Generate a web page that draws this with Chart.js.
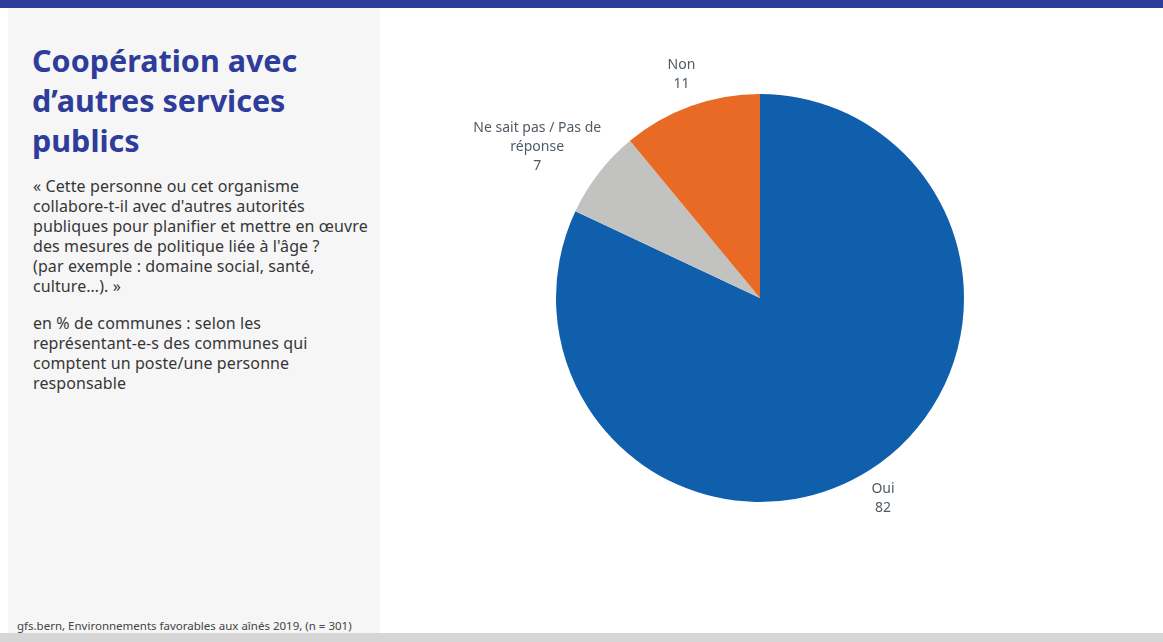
<!DOCTYPE html>
<html>
<head>
<meta charset="utf-8">
<script src="https://cdn.jsdelivr.net/npm/chart.js@4/dist/chart.umd.min.js"></script>
<style>
  body { margin: 0; width: 1163px; height: 642px; position: relative; overflow: hidden; background: #fff; font-family: "Noto Sans", sans-serif; }
  #topbar { position: absolute; left: 0; top: 0; width: 1163px; height: 8px; background: #2e3d9b; }
  #panel { position: absolute; left: 8px; top: 8px; width: 372px; height: 625px; background: #f6f6f6; }
  #bottombar { position: absolute; left: 0; top: 633px; width: 1163px; height: 9px; background: #d6d6d6; }
  h1 { position: absolute; left: 32px; top: 40px; margin: 0; width: 345px; font-size: 30.5px; line-height: 40px; font-weight: 700; color: #2e3d9b; }
  .txt { position: absolute; left: 33px; width: 345px; font-size: 16px; line-height: 20px; letter-spacing: 0.1px; color: #363636; white-space: nowrap; }
  #q { top: 176px; }
  #unit { top: 313px; }
  #source { position: absolute; left: 17px; top: 618px; font-size: 11.5px; color: #444; }
  #wrap { position: absolute; left: 420px; top: 28px; width: 680px; height: 540px; }
</style>
</head>
<body>
<div id="topbar"></div>
<div id="panel"></div>
<div id="bottombar"></div>
<h1>Coopération avec<br>d’autres services<br>publics</h1>
<div class="txt" id="q">« Cette personne ou cet organisme<br>collabore-t-il avec d'autres autorités<br>publiques pour planifier et mettre en œuvre<br>des mesures de politique liée à l'âge ?<br>(par exemple : domaine social, santé,<br>culture…). »</div>
<div class="txt" id="unit">en % de communes : selon les<br>représentant-e-s des communes qui<br>comptent un poste/une personne<br>responsable</div>
<div id="source">gfs.bern, Environnements favorables aux aînés 2019, (n = 301)</div>
<div id="wrap"><canvas id="camembert"></canvas></div>
<script>
var categories = ['Oui', 'Ne sait pas / Pas de réponse', 'Non'];
var etiquettes = [['Oui'], ['Ne sait pas / Pas de', 'réponse'], ['Non']];
var valeurs = [82, 7, 11];
var couleurs = ['#0f5fad', '#c2c2c1', '#e86a24'];

// étiquettes à l'extérieur des parts
const pluginEtiquettes = {
    id: 'etiquettesExt',
    afterDatasetsDraw(chart) {
        const ctx = chart.ctx;
        const meta = chart.getDatasetMeta(0);
        ctx.save();
        ctx.font = '14px "Noto Sans", sans-serif';
        ctx.fillStyle = '#505a64';
        ctx.textAlign = 'center';
        ctx.textBaseline = 'middle';
        const lh = 19;
        meta.data.forEach(function (arc, i) {
            const p = arc.getProps(['x', 'y', 'startAngle', 'endAngle', 'outerRadius'], true);
            const mid = (p.startAngle + p.endAngle) / 2;
            const dx = Math.cos(mid), dy = Math.sin(mid);
            const lignes = etiquettes[i].concat([String(valeurs[i])]);
            let w = 0;
            lignes.forEach(function (l) { w = Math.max(w, ctx.measureText(l).width); });
            const h = lignes.length * lh;
            const ax = p.x + dx * (p.outerRadius + 14);
            const ay = p.y + dy * (p.outerRadius + 14);
            const cx = ax + dx * w / 2;
            const cy = ay + dy * h / 2;
            lignes.forEach(function (l, k) {
                ctx.fillText(l, cx, cy - h / 2 + lh / 2 + k * lh);
            });
        });
        ctx.restore();
    }
};

new Chart(document.getElementById('camembert'), {
    type: 'pie',
    data: {
        labels: categories,
        datasets: [{
            data: valeurs,
            backgroundColor: couleurs,
            borderWidth: 0
        }]
    },
    options: {
        responsive: true,
        maintainAspectRatio: false,
        animation: false,
        layout: { padding: { top: 66, bottom: 66, left: 136, right: 136 } },
        plugins: {
            legend: { display: false },
            tooltip: { enabled: false }
        }
    },
    plugins: [pluginEtiquettes]
});
</script>
</body>
</html>
